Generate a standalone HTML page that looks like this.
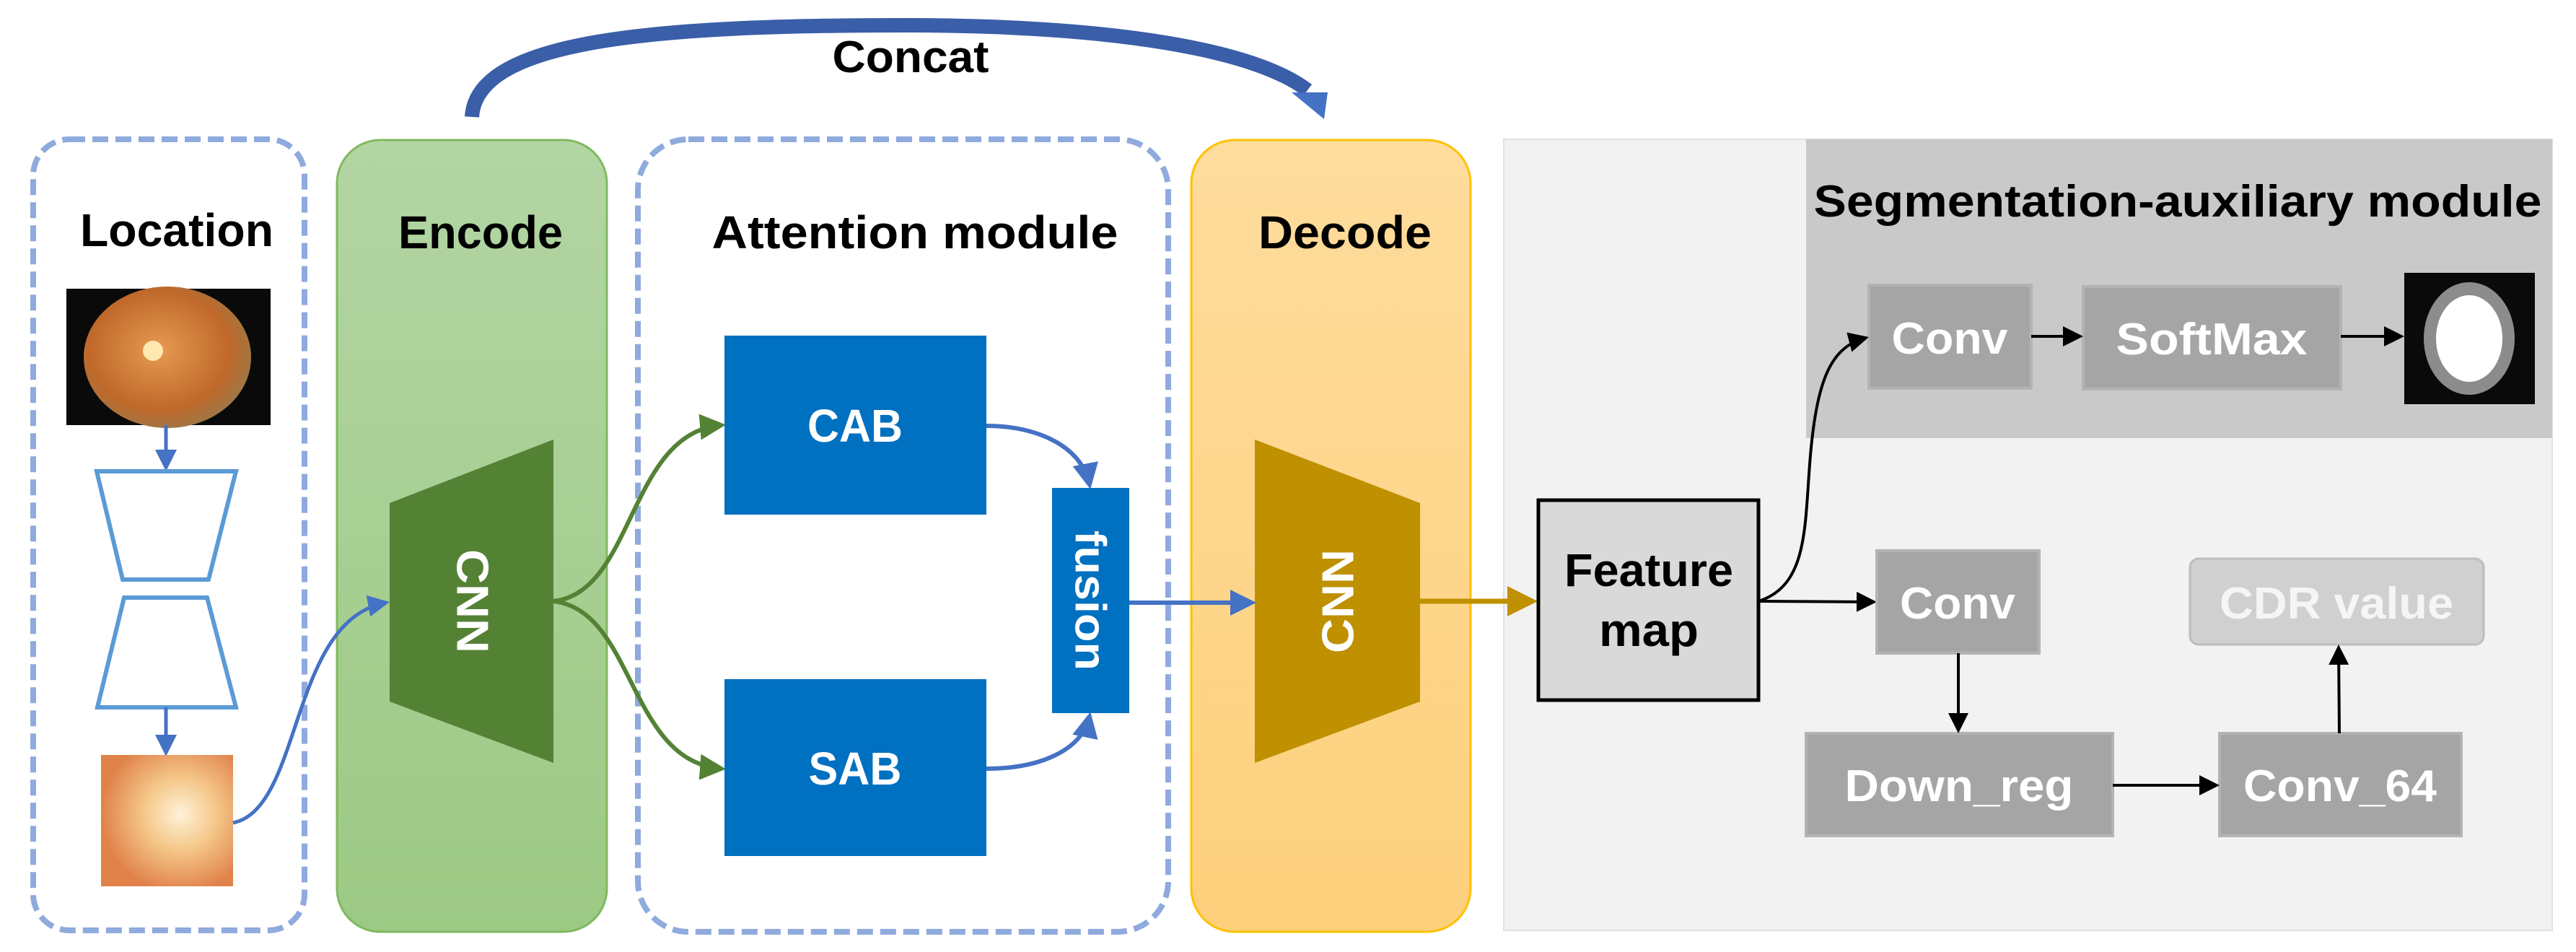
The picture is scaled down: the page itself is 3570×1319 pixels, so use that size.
<!DOCTYPE html>
<html><head><meta charset="utf-8"><style>
html,body{margin:0;padding:0;background:#fff;}
svg{display:block;}
text{font-family:"Liberation Sans",sans-serif;}
</style></head><body>
<svg width="3570" height="1319" viewBox="0 0 3570 1319" xmlns="http://www.w3.org/2000/svg">
<defs>
<linearGradient id="gG" x1="0" y1="0" x2="0" y2="1"><stop offset="0" stop-color="#b3d5a3"/><stop offset="1" stop-color="#9cc984"/></linearGradient>
<linearGradient id="gY" x1="0" y1="0" x2="0" y2="1"><stop offset="0" stop-color="#fedc9c"/><stop offset="1" stop-color="#fdd07c"/></linearGradient>
<radialGradient id="fund" cx="0.45" cy="0.45" r="0.6"><stop offset="0" stop-color="#e69a52"/><stop offset="0.7" stop-color="#c0682a"/><stop offset="1" stop-color="#9a7a4a"/></radialGradient>
<radialGradient id="disc" cx="0.6" cy="0.45" r="0.6"><stop offset="0" stop-color="#fff2d8"/><stop offset="0.45" stop-color="#f5c88a"/><stop offset="1" stop-color="#e0824a"/></radialGradient>
<marker id="aB" markerWidth="6" markerHeight="6" refX="5" refY="3" orient="auto" markerUnits="strokeWidth"><path d="M0,0 L6,3 L0,6 z" fill="#4472c4"/></marker>
<marker id="aGr" markerWidth="6" markerHeight="6" refX="5" refY="3" orient="auto" markerUnits="strokeWidth"><path d="M0,0 L6,3 L0,6 z" fill="#548235"/></marker>
<marker id="aO" markerWidth="6" markerHeight="6" refX="5" refY="3" orient="auto" markerUnits="strokeWidth"><path d="M0,0 L6,3 L0,6 z" fill="#bf9000"/></marker>
<marker id="aK" markerWidth="7" markerHeight="7" refX="6" refY="3.5" orient="auto" markerUnits="strokeWidth"><path d="M0,0 L7,3.5 L0,7 z" fill="#000"/></marker>
</defs>

<!-- Concat arc -->
<path d="M654,162 C660,60 880,35 1250,35 C1550,35 1740,70 1812,125" fill="none" stroke="#3b5ea8" stroke-width="20"/>
<path d="M1790,128 L1840,128 L1835,165 Z" fill="#4472c4"/>
<text x="1262" y="100" font-size="62" font-weight="bold" text-anchor="middle" textLength="217" lengthAdjust="spacingAndGlyphs">Concat</text>

<!-- Location box -->
<rect x="46" y="193" width="376" height="1096" rx="50" fill="none" stroke="#8faadc" stroke-width="8" stroke-dasharray="22,10"/>
<text x="245" y="341" font-size="64" font-weight="bold" text-anchor="middle" textLength="268" lengthAdjust="spacingAndGlyphs">Location</text>
<rect x="92" y="400" width="283" height="189" fill="#0a0a0a"/>
<ellipse cx="232" cy="495" rx="116" ry="98" fill="url(#fund)"/>
<circle cx="212" cy="486" r="14" fill="#ffe9b0"/>
<line x1="230" y1="589" x2="230" y2="648" stroke="#4472c4" stroke-width="5" marker-end="url(#aB)"/>
<polygon points="134,653 327,653 289,803 170,803" fill="#fff" stroke="#5b9bd5" stroke-width="6"/>
<polygon points="172,828 287,828 327,980 135,980" fill="#fff" stroke="#5b9bd5" stroke-width="6"/>
<line x1="230" y1="980" x2="230" y2="1043" stroke="#4472c4" stroke-width="5" marker-end="url(#aB)"/>
<rect x="140" y="1046" width="183" height="182" fill="url(#disc)"/>

<!-- Encode -->
<rect x="467" y="194" width="374" height="1097" rx="60" fill="url(#gG)" stroke="#7fb95f" stroke-width="3"/>
<text x="666" y="344" font-size="64" font-weight="bold" text-anchor="middle" textLength="228" lengthAdjust="spacingAndGlyphs">Encode</text>
<polygon points="540,697 767,609 767,1057 540,972" fill="#548235"/>
<text x="654" y="833" font-size="62" fill="#fff" text-anchor="middle" dominant-baseline="central" transform="rotate(90 654 833)" font-weight="bold" textLength="144" lengthAdjust="spacingAndGlyphs">CNN</text>
<path d="M323,1140 C420,1120 400,860 535,835" fill="none" stroke="#4472c4" stroke-width="5" marker-end="url(#aB)"/>

<!-- Attention module -->
<rect x="884" y="193" width="735" height="1098" rx="70" fill="none" stroke="#8faadc" stroke-width="8" stroke-dasharray="22,10"/>
<text x="1268" y="344" font-size="64" font-weight="bold" text-anchor="middle" textLength="563" lengthAdjust="spacingAndGlyphs">Attention module</text>
<path d="M767,833 C880,820 870,600 1000,589" fill="none" stroke="#548235" stroke-width="6" marker-end="url(#aGr)"/>
<path d="M767,833 C880,846 870,1055 1000,1065" fill="none" stroke="#548235" stroke-width="6" marker-end="url(#aGr)"/>
<rect x="1004" y="465" width="363" height="248" fill="#0070c0"/>
<text x="1185" y="612" font-size="64" font-weight="bold" fill="#fff" text-anchor="middle" textLength="132" lengthAdjust="spacingAndGlyphs">CAB</text>
<rect x="1004" y="941" width="363" height="245" fill="#0070c0"/>
<text x="1185" y="1087" font-size="64" font-weight="bold" fill="#fff" text-anchor="middle" textLength="129" lengthAdjust="spacingAndGlyphs">SAB</text>
<rect x="1458" y="676" width="107" height="312" fill="#0070c0"/>
<text x="1511" y="832" font-size="60" font-weight="bold" fill="#fff" text-anchor="middle" dominant-baseline="central" transform="rotate(90 1511 832)" textLength="194" lengthAdjust="spacingAndGlyphs">fusion</text>
<path d="M1367,590 C1440,590 1500,620 1510,672" fill="none" stroke="#4472c4" stroke-width="6" marker-end="url(#aB)"/>
<path d="M1367,1065 C1440,1065 1500,1040 1510,992" fill="none" stroke="#4472c4" stroke-width="6" marker-end="url(#aB)"/>

<!-- Decode -->
<rect x="1651" y="194" width="387" height="1097" rx="60" fill="url(#gY)" stroke="#ffc000" stroke-width="3"/>
<text x="1864" y="344" font-size="64" font-weight="bold" text-anchor="middle" textLength="240" lengthAdjust="spacingAndGlyphs">Decode</text>
<polygon points="1739,609 1968,697 1968,972 1739,1057" fill="#bf9000"/>
<text x="1855" y="833" font-size="62" fill="#fff" text-anchor="middle" dominant-baseline="central" transform="rotate(-90 1855 833)" font-weight="bold" textLength="144" lengthAdjust="spacingAndGlyphs">CNN</text>
<line x1="1565" y1="835" x2="1735" y2="835" stroke="#4472c4" stroke-width="6" marker-end="url(#aB)"/>

<!-- Right panel -->
<rect x="2084" y="193" width="1453" height="1096" fill="#f2f2f2" stroke="#e0e0e0" stroke-width="2"/>
<line x1="1968" y1="833" x2="2124" y2="833" stroke="#bf9000" stroke-width="7" marker-end="url(#aO)"/>
<rect x="2503" y="193" width="1034" height="414" fill="#c9c9c9"/>
<text x="3018" y="300" font-size="62" font-weight="bold" text-anchor="middle" textLength="1009" lengthAdjust="spacingAndGlyphs">Segmentation-auxiliary module</text>
<rect x="2590" y="395" width="225" height="143" fill="#a5a5a5" stroke="#b3b3b3" stroke-width="4"/>
<text x="2702" y="490" font-size="62" font-weight="bold" fill="#fff" text-anchor="middle" textLength="161" lengthAdjust="spacingAndGlyphs">Conv</text>
<rect x="2887" y="397" width="357" height="142" fill="#a5a5a5" stroke="#b3b3b3" stroke-width="4"/>
<text x="3065" y="491" font-size="62" font-weight="bold" fill="#fff" text-anchor="middle" textLength="265" lengthAdjust="spacingAndGlyphs">SoftMax</text>
<rect x="3332" y="378" width="181" height="182" fill="#0a0a0a"/>
<ellipse cx="3422" cy="469" rx="63" ry="78" fill="#8c8c8c"/>
<ellipse cx="3422" cy="469" rx="46" ry="60" fill="#fff"/>
<line x1="2815" y1="466" x2="2883" y2="466" stroke="#000" stroke-width="4" marker-end="url(#aK)"/>
<line x1="3244" y1="466" x2="3328" y2="466" stroke="#000" stroke-width="4" marker-end="url(#aK)"/>

<rect x="2132" y="693" width="305" height="277" fill="#d9d9d9" stroke="#000" stroke-width="5"/>
<text x="2285" y="812" font-size="64" font-weight="bold" text-anchor="middle" textLength="234" lengthAdjust="spacingAndGlyphs">Feature</text>
<text x="2285" y="895" font-size="64" font-weight="bold" text-anchor="middle" textLength="138" lengthAdjust="spacingAndGlyphs">map</text>
<path d="M2437,833 C2510,810 2500,720 2510,620 C2520,520 2540,480 2586,468" fill="none" stroke="#000" stroke-width="4" marker-end="url(#aK)"/>
<line x1="2437" y1="833" x2="2597" y2="834" stroke="#000" stroke-width="4" marker-end="url(#aK)"/>

<rect x="2601" y="763" width="225" height="142" fill="#a5a5a5" stroke="#b3b3b3" stroke-width="4"/>
<text x="2713" y="857" font-size="62" font-weight="bold" fill="#fff" text-anchor="middle" textLength="160" lengthAdjust="spacingAndGlyphs">Conv</text>
<rect x="3035" y="774" width="407" height="119" rx="12" fill="#d0d0d0" stroke="#bdbdbd" stroke-width="3"/>
<text x="3238" y="857" font-size="62" font-weight="bold" fill="#f5f5f5" text-anchor="middle" textLength="324" lengthAdjust="spacingAndGlyphs">CDR value</text>
<rect x="2503" y="1016" width="425" height="142" fill="#a5a5a5" stroke="#b3b3b3" stroke-width="4"/>
<text x="2715" y="1110" font-size="62" font-weight="bold" fill="#fff" text-anchor="middle" textLength="317" lengthAdjust="spacingAndGlyphs">Down_reg</text>
<rect x="3076" y="1016" width="335" height="142" fill="#a5a5a5" stroke="#b3b3b3" stroke-width="4"/>
<text x="3243" y="1110" font-size="62" font-weight="bold" fill="#fff" text-anchor="middle" textLength="268" lengthAdjust="spacingAndGlyphs">Conv_64</text>
<line x1="2714" y1="905" x2="2714" y2="1012" stroke="#000" stroke-width="4" marker-end="url(#aK)"/>
<line x1="2928" y1="1088" x2="3072" y2="1088" stroke="#000" stroke-width="4" marker-end="url(#aK)"/>
<line x1="3242" y1="1016" x2="3241" y2="897" stroke="#000" stroke-width="4" marker-end="url(#aK)"/>
</svg>
</body></html>
